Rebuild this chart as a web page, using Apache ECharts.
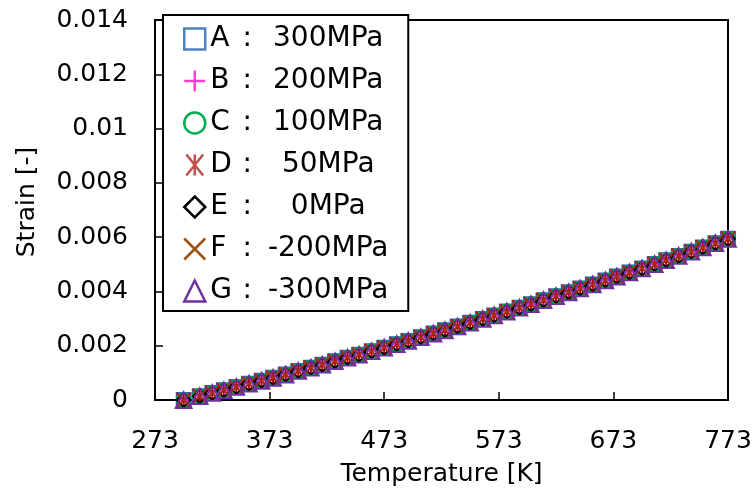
<!DOCTYPE html>
<html>
<head>
<meta charset="utf-8">
<script src="https://cdn.jsdelivr.net/npm/echarts@6/dist/echarts.min.js"></script>
<style>
html,body{margin:0;padding:0;background:#fff;}
#chart{width:755px;height:493px;}
</style>
</head>
<body>
<div id="chart"></div>
<script>
// ---- data ----
const letters   = ['A', 'B', 'C', 'D', 'E', 'F', 'G'];
const pressures = ['300MPa', '200MPa', '100MPa', '50MPa', '0MPa', '-200MPa', '-300MPa'];
const temps = [298, 312, 323, 333, 344, 355, 366, 376, 387, 398, 409, 419, 430, 441, 451,
               462, 473, 484, 494, 505, 516, 526, 537, 548, 559, 569, 580, 591, 601, 612,
               623, 634, 644, 655, 666, 676, 687, 698, 709, 719, 730, 741, 751, 762, 773];
// all seven series overlap within marker size in the reference
const strain = [0.00000, 0.00014, 0.00026, 0.00036, 0.00048, 0.00060, 0.00071, 0.00082, 0.00094,
                0.00107, 0.00119, 0.00130, 0.00143, 0.00156, 0.00167, 0.00180, 0.00193, 0.00206,
                0.00218, 0.00232, 0.00245, 0.00257, 0.00271, 0.00285, 0.00299, 0.00312, 0.00326,
                0.00340, 0.00353, 0.00368, 0.00383, 0.00397, 0.00411, 0.00426, 0.00441, 0.00455,
                0.00470, 0.00485, 0.00501, 0.00515, 0.00531, 0.00547, 0.00562, 0.00578, 0.00594];
const xTicks = [273, 373, 473, 573, 673, 773];
const yTicks = [0, 0.002, 0.004, 0.006, 0.008, 0.01, 0.012, 0.014];

// ---- styling ----
const colors = ['#4F81BD', '#FF3DD1', '#00B050', '#C0504D', '#000000', '#A0500F', '#7030A0'];
const plotColors = ['#2F5FD0', '#FF3DD1', '#00A040', '#B00010', '#000000', '#A0300F', '#7030A0'];
const symbols = [
  'rect',
  'path://M0,-1L0,1M-1,0L1,0',
  'circle',
  'path://M-0.8,-1L0.8,1M-0.8,1L0.8,-1M0,-1L0,1',
  'diamond',
  'path://M-1,-1L1,1M-1,1L1,-1',
  'triangle'
];
const FONT = 'DejaVu Sans';
const GRID = {left: 155, right: 27, top: 20, bottom: 93};
const W = 755, H = 493;
const TICK = 8, GAP = 2000;
const gridH = H - GRID.top - GRID.bottom;

const chart = echarts.init(document.getElementById('chart'), null, {renderer: 'canvas'});

const series = letters.map((l, i) => ({
  name: l + ' : ' + pressures[i],
  type: 'scatter',
  data: temps.map((t, k) => [t, strain[k]]),
  symbol: symbols[i],
  symbolSize: i === 6 ? 16 : 14,
  itemStyle: {color: 'rgba(0,0,0,0)', borderColor: plotColors[i], borderWidth: 1.8, opacity: 1},
  emphasis: {disabled: true},
  z: 2 + i
}));

chart.setOption({
  animation: false,
  backgroundColor: '#fff',
  grid: Object.assign({show: true, borderColor: '#000', borderWidth: 2, backgroundColor: 'transparent'}, GRID),
  xAxis: {
    type: 'value', min: xTicks[0], max: xTicks[xTicks.length - 1], interval: xTicks[1] - xTicks[0],
    name: 'Temperature [K]', nameLocation: 'middle', nameGap: 62,
    nameTextStyle: {fontFamily: FONT, fontSize: 25, color: '#000'},
    axisLine: {show: true, onZero: false, lineStyle: {color: '#000', width: 2}},
    axisTick: {show: false},
    axisLabel: {fontFamily: FONT, fontSize: 25, color: '#000', margin: 29},
    // inward tick marks: short dash at the bottom end of each split line
    splitLine: {show: true, lineStyle: {color: '#000', width: 1.5, type: [TICK, GAP], dashOffset: (TICK + GAP) - (gridH - TICK)}}
  },
  yAxis: {
    type: 'value', min: yTicks[0], max: yTicks[yTicks.length - 1], interval: yTicks[1] - yTicks[0],
    name: 'Strain [-]', nameLocation: 'middle', nameGap: 115,
    nameTextStyle: {fontFamily: FONT, fontSize: 25, color: '#000', padding: [0, 0, 0, 16]},
    axisLine: {show: true, onZero: false, lineStyle: {color: '#000', width: 2}},
    axisTick: {show: false},
    axisLabel: {fontFamily: FONT, fontSize: 25, color: '#000', margin: 27,
      formatter: v => String(+v.toFixed(3))},
    // inward tick marks: short dash at the left end of each split line
    splitLine: {show: true, lineStyle: {color: '#000', width: 1.5, type: [TICK, GAP], dashOffset: 0}}
  },
  legend: {
    orient: 'vertical', left: 163, top: 15,
    backgroundColor: '#fff', borderColor: '#000', borderWidth: 2,
    padding: [10, 6, 6, 20],
    itemWidth: 21, itemHeight: 21, itemGap: 14,
    selectedMode: false,
    itemStyle: {borderWidth: 2.5},
    formatter: name => {
      const p = name.split(' : ');
      return '{l|' + p[0] + '}{c|:}{v|' + p[1] + '}';
    },
    textStyle: {
      fontFamily: FONT, fontSize: 28, color: '#000', lineHeight: 28,
      rich: {
        l: {fontFamily: FONT, fontSize: 28, width: 30, align: 'left', lineHeight: 28},
        c: {fontFamily: FONT, fontSize: 28, width: 14, align: 'center', lineHeight: 28},
        v: {fontFamily: FONT, fontSize: 28, width: 148, align: 'center', lineHeight: 28}
      }
    },
    data: letters.map((l, i) => ({name: l + ' : ' + pressures[i],
      itemStyle: {color: 'rgba(0,0,0,0)', borderColor: colors[i], borderWidth: 2.5}}))
  },
  series: series
});
</script>
</body>
</html>
